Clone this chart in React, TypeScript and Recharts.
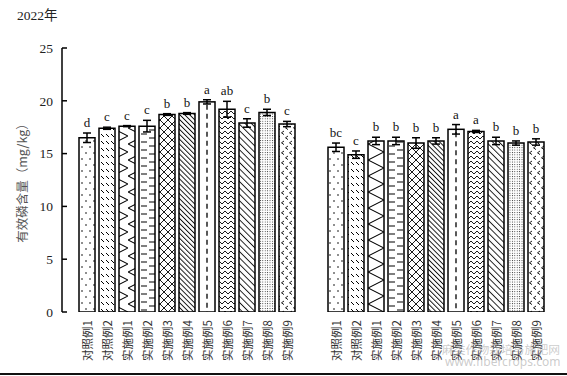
import React from 'react';
import { BarChart, Bar, XAxis, YAxis, ErrorBar, LabelList } from 'recharts';

const categories = ['80d', '110d'];
const treatments = ['对照例1', '对照例2', '实施例1', '实施例2', '实施例3', '实施例4', '实施例5', '实施例6', '实施例7', '实施例8', '实施例9'];
const means80 = [16.5, 17.4, 17.6, 17.6, 18.7, 18.8, 19.9, 19.2, 17.9, 18.9, 17.8];
const sd80 = [0.45, 0.1, 0.05, 0.55, 0.08, 0.08, 0.2, 0.75, 0.4, 0.3, 0.25];
const letters80 = ['d', 'c', 'c', 'c', 'b', 'b', 'a', 'ab', 'c', 'b', 'c'];
const means110 = [15.6, 14.9, 16.2, 16.2, 16.0, 16.2, 17.3, 17.1, 16.2, 16.0, 16.1];
const sd110 = [0.4, 0.35, 0.35, 0.35, 0.5, 0.3, 0.45, 0.1, 0.35, 0.2, 0.3];
const letters110 = ['bc', 'c', 'b', 'b', 'b', 'b', 'a', 'a', 'b', 'b', 'b'];
const yTicks = [0, 5, 10, 15, 20, 25];

const meansByCat = [means80, means110];
const errsByCat = [sd80, sd110];
const lettersByCat = [letters80, letters110];

const data = categories.map((name, ci) => {
  const row: Record<string, any> = { name };
  treatments.forEach((_, i) => {
    row[`v${i}`] = meansByCat[ci][i];
    row[`e${i}`] = errsByCat[ci][i];
  });
  return row;
});

const SERIF = '"Liberation Serif", "Noto Sans CJK SC", serif';
const CJK = '"Noto Sans CJK SC", sans-serif';

const Patterns = () => (
  <svg width={0} height={0} style={{ position: 'absolute' }}>
    <defs>
      <pattern id="pat0" width="8" height="12" patternUnits="userSpaceOnUse">
        <rect width="8" height="12" fill="#fff" />
        <circle cx="2" cy="3" r="0.8" fill="#000" />
        <circle cx="6" cy="9" r="0.8" fill="#000" />
      </pattern>
      <pattern id="pat1" width="5" height="7" patternUnits="userSpaceOnUse">
        <rect width="5" height="7" fill="#fff" />
        <path d="M1,1 L4,4" stroke="#000" strokeWidth="1" />
      </pattern>
      <pattern id="pat2" width="16" height="16" patternUnits="userSpaceOnUse">
        <rect width="16" height="16" fill="#fff" />
        <path d="M0,0 L16,8 L0,16" stroke="#000" strokeWidth="1.1" fill="none" />
      </pattern>
      <pattern id="pat3" width="16" height="8" patternUnits="userSpaceOnUse">
        <rect width="16" height="8" fill="#fff" />
        <path d="M5,2 H11 M0,6 H3 M13,6 H16" stroke="#000" strokeWidth="1.2" />
      </pattern>
      <pattern id="pat4" width="8" height="8" patternUnits="userSpaceOnUse">
        <rect width="8" height="8" fill="#fff" />
        <path d="M0,0 L8,8 M8,0 L0,8" stroke="#000" strokeWidth="0.9" />
      </pattern>
      <pattern id="pat5" width="3.5" height="4" patternUnits="userSpaceOnUse" patternTransform="rotate(-45)">
        <rect width="3.5" height="4" fill="#fff" />
        <path d="M0.5,0 V4" stroke="#000" strokeWidth="0.9" />
      </pattern>
      <pattern id="pat7" width="6" height="5" patternUnits="userSpaceOnUse">
        <rect width="6" height="5" fill="#fff" />
        <path d="M0,4 L3,1 L6,4" stroke="#000" strokeWidth="0.9" fill="none" />
      </pattern>
      <pattern id="pat8" width="4.5" height="4" patternUnits="userSpaceOnUse" patternTransform="rotate(-45)">
        <rect width="4.5" height="4" fill="#fff" />
        <path d="M0.5,0 V4" stroke="#000" strokeWidth="0.9" />
      </pattern>
      <pattern id="pat9" width="2.4" height="2.4" patternUnits="userSpaceOnUse">
        <rect width="2.4" height="2.4" fill="#fff" />
        <circle cx="1.2" cy="1.2" r="0.5" fill="#000" />
      </pattern>
      <pattern id="pat10" width="8" height="10" patternUnits="userSpaceOnUse">
        <rect width="8" height="10" fill="#fff" />
        <path d="M4,1 L1.5,2.8 L4,4.6 M8,6 L5.5,7.8 L8,9.6" stroke="#000" strokeWidth="0.9" fill="none" />
      </pattern>
    </defs>
  </svg>
);

const DashedBar = (props: any) => {
  const { x, y, width, height } = props;
  return (
    <g>
      <rect x={x} y={y} width={width} height={height} fill="#fff" stroke="#000" strokeWidth={1.5} />
      <line x1={x + width / 2} y1={y + 3} x2={x + width / 2} y2={y + height} stroke="#000" strokeWidth={1.3} strokeDasharray="5 4" />
    </g>
  );
};

const makeLetter = (i: number) => (p: any) => {
  const { x, y, width, height, value, index } = p;
  const err = errsByCat[index][i];
  const pxPerUnit = height / value;
  const top = y - err * pxPerUnit;
  return (
    <text x={x + width / 2} y={top - 6} textAnchor="middle" fontFamily={SERIF} fontSize={13} fill="#111">
      {lettersByCat[index][i]}
    </text>
  );
};

const makeName = (name: string) => (p: any) => {
  const { x, y, width, height } = p;
  const cx = x + width / 2;
  const cy = y + height + 8;
  return (
    <text x={cx} y={cy} transform={`rotate(-90 ${cx} ${cy})`} textAnchor="end" dominantBaseline="central" fontFamily={CJK} fontSize={11.5} fill="#333">
      {name}
    </text>
  );
};

export default function App() {
  return (
    <div style={{ position: 'absolute', left: 0, top: 0, width: 567, height: 376, background: '#fff', overflow: 'hidden' }}>
      <Patterns />
      <div style={{ position: 'absolute', left: 17, top: 9, fontFamily: SERIF, fontSize: 13.5, lineHeight: '14px', color: '#222' }}>2022年</div>
      <BarChart width={567} height={376} data={data} margin={{ top: 48, right: 7, bottom: 64, left: 0 }} barGap={4}>
        <XAxis dataKey="name" height={0} tick={false} tickLine={false} axisLine={{ stroke: '#000', strokeWidth: 1.5 }} />
        <XAxis xAxisId="bounds" type="number" domain={[0, 2]} ticks={[0, 1, 2]} allowDataOverflow height={0} tick={false} axisLine={false} tickLine={{ stroke: '#000', strokeWidth: 1.5 }} tickSize={5} mirror />
        <XAxis xAxisId="top" orientation="top" dataKey="name" height={0} axisLine={false} tickLine={false} tickSize={0} tickMargin={6} mirror tick={{ fontFamily: SERIF, fontSize: 13.5, fill: '#222' }} />
        <YAxis width={62} domain={[0, 25]} ticks={yTicks} allowDataOverflow tickSize={-5} tickMargin={14}
          axisLine={{ stroke: '#000', strokeWidth: 1.5 }} tickLine={{ stroke: '#000', strokeWidth: 1.5 }}
          tick={{ fontFamily: SERIF, fontSize: 13.5, fill: '#222' }}
          label={{ value: '有效磷含量（mg/kg）', angle: -90, position: 'center', dx: -8, style: { fontFamily: CJK, fontSize: 12.5, fill: '#555' } }} />
        {treatments.map((t, i) => (
          <Bar key={t} dataKey={`v${i}`} barSize={16} fill={`url(#pat${i})`} stroke="#000" strokeWidth={1.5} isAnimationActive={false}
            shape={i === 6 ? DashedBar : undefined}>
            <ErrorBar dataKey={`e${i}`} width={4} stroke="#000" strokeWidth={1.5} direction="y" isAnimationActive={false} />
            <LabelList content={makeLetter(i)} />
            <LabelList content={makeName(t)} />
          </Bar>
        ))}
      </BarChart>
      <div style={{ position: 'absolute', left: 442, top: 342, fontFamily: CJK, fontSize: 11.8, lineHeight: '14px', color: 'rgba(160,160,160,0.55)', whiteSpace: 'nowrap' }}>麻类作物栽培与施肥网</div>
      <div style={{ position: 'absolute', left: 445, top: 355, fontFamily: '"Noto Sans", sans-serif', fontSize: 12, lineHeight: '14px', color: 'rgba(160,160,160,0.55)', whiteSpace: 'nowrap' }}>www.fibercrops.com</div>
      <div style={{ position: 'absolute', left: 0, top: 373, width: 567, height: 2, background: '#111' }} />
    </div>
  );
}
